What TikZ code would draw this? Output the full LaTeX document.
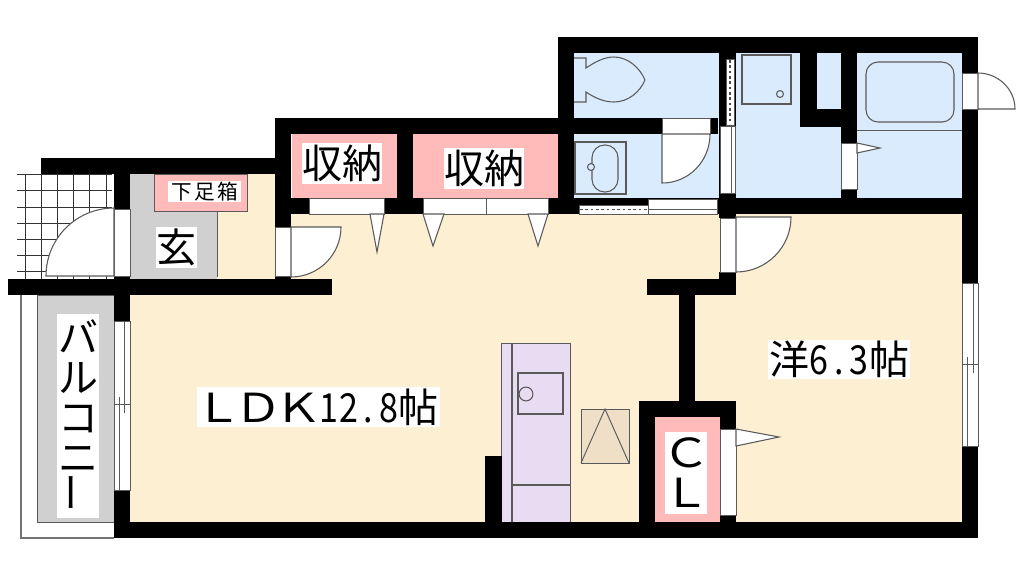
\documentclass[tikz,border=0pt]{standalone}
\usepackage{fontspec}
\usepackage{graphicx}
\setmainfont{Noto Sans CJK JP}
\newcommand{\hwd}[1]{\makebox[15pt]{\scalebox{0.85}[1]{#1}}}
\newcommand{\fwd}[1]{\makebox[30pt]{\scalebox{1.2}[1]{#1}}}
\newcommand{\smc}[1]{\makebox[17.25pt]{#1}}
\definecolor{floorY}{HTML}{FDF0D2}
\definecolor{floorB}{HTML}{DAEBFD}
\definecolor{floorP}{HTML}{FFBABA}
\definecolor{floorG}{HTML}{D0D0D0}
\definecolor{kitP}{HTML}{E8DCF2}
\definecolor{tanB}{HTML}{EEDFC6}
\definecolor{lineG}{HTML}{5A5A5A}
\tikzset{
  wall/.style={fill=black,draw=none},
  opening/.style={fill=white,draw=lineG,line width=0.7pt},
  thin line/.style={draw=lineG,line width=0.7pt},
  fix/.style={draw=lineG,line width=0.8pt},
  leaf/.style={fill=white,draw=lineG,line width=0.8pt},
  tile/.style={draw=black!80,line width=0.6pt},
  lab/.style={fill=white,inner sep=0pt,font=\fontsize{30}{30}\selectfont,text=black,align=center},
}
\begin{document}
\begin{tikzpicture}[x=0.75pt,y=-0.75pt]
\useasboundingbox (0,0) rectangle (1024,576);
% floors
\fill[floorY] (130,295) rectangle (736,522);
\fill[floorY] (291,214) rectangle (719,295);
\fill[floorY] (217,174) rectangle (275,279);
\fill[floorY] (719,214) rectangle (962,522);
\fill[floorG] (130,174) rectangle (217,279);
\fill[floorB] (574,53) rectangle (719,198);
\fill[floorB] (736,53) rectangle (962,198);
\fill[floorP] (292,134) rectangle (397,198);
\fill[floorP] (413,134) rectangle (558,198);
\fill[floorP] (655,417) rectangle (720,522);
\path[fill=floorP,draw=lineG,line width=0.6pt] (154,174) rectangle (247,211);
\draw[thin line] (217,211) -- (217,277);
% tile area
\foreach \gx in {25,41,57,73,89,106} \draw[tile] (\gx,174) -- (\gx,279);
\foreach \gy in {174,190,207,223,239,255,271} \draw[tile] (17,\gy) -- (112,\gy);
% balcony
\draw[draw=black!55,line width=0.9pt] (21,295) -- (21,538) -- (114,538);
\path[fill=floorG,draw=lineG,line width=0.6pt] (37,295) -- (37,522) -- (114,522) -- (114,295) -- cycle;
% kitchen
\path[fill=kitP,draw=lineG,line width=0.7pt] (501,343) rectangle (570,522);
\draw[fix] (512,343) -- (512,522);
\draw[fix] (512,485) -- (570,485);
\draw[fix] (518,373) rectangle (563,414);
\draw[fix] (526,394) circle[radius=5.2pt];
\path[fill=tanB,draw=black!65,line width=0.7pt] (581,409) rectangle (629,463);
\draw[black!65,line width=0.7pt] (581,463) -- (605,409) -- (629,463);
% washroom fixtures
\draw[fix] (575,142) rectangle (626,194);
\draw[fix,rounded corners=9.5pt] (592,145) rectangle (618,192);
\path[fill=floorB,draw=lineG,line width=0.8pt] (591,167) circle[radius=2.6pt];
% toilet
\draw[fix] (574,58) -- (586,58) -- (586,68) .. controls (595,62) and (604,57) .. (614,57) .. controls (628,57) and (640,68) .. (645,80) .. controls (640,92) and (628,102) .. (614,102) .. controls (604,102) and (595,98) .. (586,92) -- (586,102) -- (574,102);
% laundry
\draw[fix] (742,55) rectangle (791,104);
\draw[fix] (780,94) circle[radius=2.6pt];
% bath
\draw[thin line] (857,130) -- (962,130);
\draw[fix,rounded corners=9pt] (866,62) rectangle (954,122);
% walls
\foreach \xa/\ya/\xb/\yb in {558/37/978/53, 558/37/574/214, 275/118/574/134, 275/118/291/227, 41/158/275/174, 114/158/130/209, 8/279/332/295, 114/276/130/321, 275/276/291/295, 114/490/130/538, 114/522/978/538, 962/37/978/73, 962/109/978/283, 962/446/978/538, 291/198/736/214, 397/134/413/214, 558/118/718/134, 719/53/736/218, 558/198/978/214, 800/53/817/127, 800/109/841/127, 841/53/857/143, 841/189/857/214, 719/272/736/295, 647/279/736/295, 679/295/695/401, 639/401/736/417, 639/401/655/522, 720/417/736/429, 720/515/736/522, 485/456/502/522}
  \fill[wall] (\xa,\ya) rectangle (\xb,\yb);
% openings
\path[opening] (114,209) rectangle (130,276);
\path[opening] (275,227) rectangle (291,276);
\path[opening] (309,198) rectangle (384,214);
\path[opening] (423,198) rectangle (548,214);
\draw[thin line] (486,198) -- (486,214);
\path[opening] (662,118) rectangle (710,134);
\path[opening] (720,126) rectangle (735,193);
\draw[thin line] (731,126) -- (731,193);
\path[opening] (726,59) rectangle (734,125);
\draw[draw=black!70,line width=1.4pt,dash pattern=on 2pt off 2pt] (730,60) -- (730,124);
\path[opening] (648,199) rectangle (717,214);
\draw[thin line] (648,209) -- (717,209);
\path[opening] (579,205) rectangle (648,214);
\draw[draw=black!70,line width=1.4pt,dash pattern=on 2pt off 2pt] (580,209.5) -- (647,209.5);
\path[opening] (720,218) rectangle (736,272);
\path[opening] (841,143) rectangle (857,189);
\path[opening] (720,429) rectangle (736,515);
% windows
\path[opening] (114,321) rectangle (130,490);
\draw[thin line] (124,321) -- (124,413);
\draw[thin line] (119,397) -- (119,490);
\draw[thin line] (114,404) -- (130,404);
\path[opening] (962,283) rectangle (978,446);
\draw[thin line] (973,283) -- (973,373);
\draw[thin line] (967,357) -- (967,446);
\draw[thin line] (962,364) -- (978,364);
\path[opening] (962,73) rectangle (978,109);
% door leaves
\path[leaf] (46,276) .. controls (46,238.4) and (76.4,208) .. (114,208) -- (114,276) -- cycle;
\path[leaf] (341,227) .. controls (341,254.6) and (318.6,277) .. (291,277) -- (291,227) -- cycle;
\path[leaf] (710,134) .. controls (710,161) and (689,183) .. (662,183) -- (662,134) -- cycle;
\path[leaf] (791,217) .. controls (791,247.4) and (766.4,272) .. (736,272) -- (736,217) -- cycle;
\path[leaf] (978,73) .. controls (998,73) and (1015,89) .. (1015,109) -- (978,109) -- cycle;
% folding door triangles
\path[leaf] (370,214) -- (377,252) -- (384,214) -- cycle;
\path[leaf] (423,214) -- (433,246) -- (444,214) -- cycle;
\path[leaf] (528,214) -- (538,246) -- (548,214) -- cycle;
\path[leaf] (857,143) -- (880,148) -- (857,153) -- cycle;
\path[leaf] (736,429) -- (779,437) -- (736,446) -- cycle;
% labels
\node[lab,minimum width=60pt,minimum height=30.75pt] (sn1) at (342,163.5) {収納};
\node[lab,minimum width=60pt,minimum height=30.75pt] (sn2) at (484,168) {収納};
\node[lab,minimum width=54.75pt,minimum height=15.75pt,font=\fontsize{15.5}{16}\selectfont] (shoe) at (204.5,191.5) {\smc{下}\smc{足}\smc{箱}};
\node[lab,minimum width=30.75pt,minimum height=30.75pt] (gen) at (176.5,247.5) {玄};
\node[lab,minimum width=182pt,minimum height=30pt] (ldk) at (318.5,407) {\fwd{Ｌ}\fwd{Ｄ}\fwd{Ｋ}\hwd{1}\hwd{2}\hwd{.}\hwd{8}帖};
\node[lab,minimum width=106.5pt,minimum height=29.25pt] (you) at (839,359.5) {洋\hwd{6}\hwd{.}\hwd{3}帖};
\node[lab,minimum width=31.5pt,minimum height=61.5pt] (cl) at (686,473) {\fwd{Ｃ}\\\fwd{Ｌ}};
\node[lab,minimum width=31.5pt,minimum height=153pt] (bal) at (78,416) {バ\\ル\\コ\\ニ\\\rotatebox{90}{ー}};
\end{tikzpicture}
\end{document}
